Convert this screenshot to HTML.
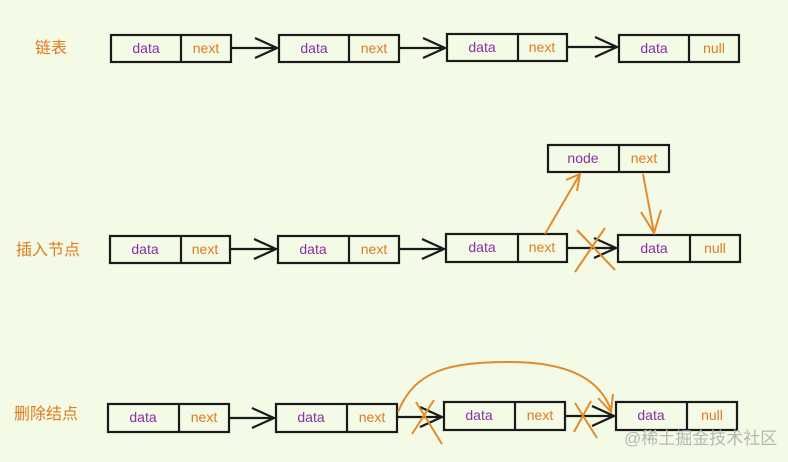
<!DOCTYPE html>
<html><head><meta charset="utf-8"><style>
body{margin:0;background:#f3fae6;}
svg{display:block}
.b{fill:none;stroke:#1a1a1a;stroke-width:2.2}
.d{fill:#8a2fa8;font-family:"Comic Sans MS","Liberation Sans",sans-serif;font-size:14px;text-anchor:middle}
.n{fill:#e07b20;font-family:"Comic Sans MS","Liberation Sans",sans-serif;font-size:14px;text-anchor:middle}
.l{fill:#e07b20;font-family:"Liberation Sans","Noto Sans CJK SC",sans-serif;font-size:16px}
.a{fill:none;stroke:#1a1a1a;stroke-width:2.2}
.o{fill:none;stroke:#e58a2a;stroke-width:2}
</style></head><body>
<svg width="788" height="462" viewBox="0 0 788 462">
<rect width="788" height="462" fill="#f3fae6"/>
<text class="l" x="35" y="53">链表</text>
<text class="l" x="16" y="255">插入节点</text>
<text class="l" x="14" y="419">删除结点</text>

<g>
<rect class="b" x="111" y="35" width="120" height="27"/><line class="b" x1="181" y1="35" x2="181" y2="62"/>
<text class="d" x="146" y="53">data</text><text class="n" x="206" y="53">next</text>
<rect class="b" x="279" y="35" width="120" height="27"/><line class="b" x1="349" y1="35" x2="349" y2="62"/>
<text class="d" x="314" y="53">data</text><text class="n" x="374" y="53">next</text>
<rect class="b" x="447" y="34" width="120" height="27"/><line class="b" x1="518" y1="34" x2="518" y2="61"/>
<text class="d" x="482" y="52">data</text><text class="n" x="542" y="52">next</text>
<rect class="b" x="619" y="35" width="120" height="27"/><line class="b" x1="689" y1="35" x2="689" y2="62"/>
<text class="d" x="654" y="53">data</text><text class="n" x="714" y="53">null</text>
<path class="a" d="M231 48H277M255 38L277 48L255 58"/>
<path class="a" d="M399 48H445M423 38L445 48L423 58"/>
<path class="a" d="M567 47H617M595 37L617 47L595 57"/>
</g>

<g>
<rect class="b" x="110" y="236" width="120" height="27"/><line class="b" x1="181" y1="236" x2="181" y2="263"/>
<text class="d" x="145" y="254">data</text><text class="n" x="205" y="254">next</text>
<rect class="b" x="278" y="236" width="121" height="27"/><line class="b" x1="349" y1="236" x2="349" y2="263"/>
<text class="d" x="313" y="254">data</text><text class="n" x="374" y="254">next</text>
<rect class="b" x="446" y="234" width="121" height="28"/><line class="b" x1="518" y1="234" x2="518" y2="262"/>
<text class="d" x="482" y="252">data</text><text class="n" x="542" y="252">next</text>
<rect class="b" x="618" y="235" width="122" height="27"/><line class="b" x1="690" y1="235" x2="690" y2="262"/>
<text class="d" x="654" y="253">data</text><text class="n" x="715" y="253">null</text>
<rect class="b" x="548" y="145" width="121" height="27"/><line class="b" x1="619" y1="145" x2="619" y2="172"/>
<text class="d" x="583" y="163">node</text><text class="n" x="644" y="163">next</text>
<path class="a" d="M230 249H276M254 239L276 249L254 259"/>
<path class="a" d="M399 249H444M422 239L444 249L422 259"/>
<path class="a" d="M567 248H616M594 238L616 248L594 258"/>
<path class="o" d="M545 234L580 174M566 180L580 174L577 191"/>
<path class="o" d="M643 174L654 233M641 212L654 233L661 210"/>
<path class="o" d="M577 230L615 270M605 228L575 272"/>
</g>

<g>
<rect class="b" x="108" y="404" width="121" height="28"/><line class="b" x1="179" y1="404" x2="179" y2="432"/>
<text class="d" x="143" y="422">data</text><text class="n" x="204" y="422">next</text>
<rect class="b" x="276" y="404" width="121" height="28"/><line class="b" x1="347" y1="404" x2="347" y2="432"/>
<text class="d" x="311" y="422">data</text><text class="n" x="372" y="422">next</text>
<rect class="b" x="444" y="402" width="121" height="28"/><line class="b" x1="515" y1="402" x2="515" y2="430"/>
<text class="d" x="479" y="420">data</text><text class="n" x="540" y="420">next</text>
<rect class="b" x="616" y="402" width="121" height="28"/><line class="b" x1="687" y1="402" x2="687" y2="430"/>
<text class="d" x="651" y="420">data</text><text class="n" x="712" y="420">null</text>
<path class="a" d="M229 418H274M252 408L274 418L252 428"/>
<path class="a" d="M397 417H442M420 407L442 417L420 427"/>
<path class="a" d="M565 416H614M592 406L614 416L592 426"/>
<path class="o" d="M398 412C415 370 450 362 510 362C570 362 600 380 611 410M598 398L611 412L613 394"/>
<path class="o" d="M416 402L442 444M434 400L412 434"/>
<path class="o" d="M575 403L597 438M591 401L574 432"/>
</g>

<text x="624" y="444" fill="#b4b8b0" font-family="Liberation Sans,Noto Sans CJK SC,sans-serif" font-size="17">@稀土掘金技术社区</text>
</svg>
</body></html>
